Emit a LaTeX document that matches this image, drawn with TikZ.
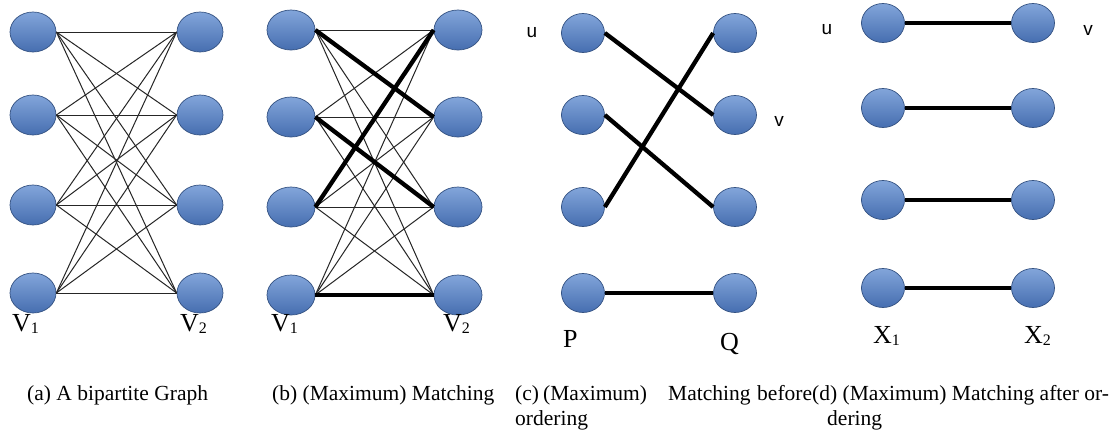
\documentclass[tikz,border=0pt]{standalone}
\usepackage{fontspec}
\setmainfont{Liberation Serif}
\newfontfamily\lsans{Liberation Sans}
\usetikzlibrary{shapes.geometric}
\definecolor{nodetop}{RGB}{130,165,218}
\definecolor{nodebot}{RGB}{70,110,176}
\definecolor{noderim}{RGB}{52,82,130}
\tikzset{
  vert/.style={ellipse, minimum width=46pt, minimum height=40pt, inner sep=0pt,
    top color=nodetop, bottom color=nodebot, draw=noderim, line width=0.7pt},
  vsmall/.style={vert, minimum width=43pt, minimum height=39pt},
  edgethin/.style={line width=1pt, black!85},
  edgethick/.style={line width=4.3pt, black},
  capt/.style={font=\fontsize{21.5}{25}\selectfont, anchor=base west, inner sep=0pt},
  lab/.style={font=\fontsize{26}{30}\selectfont, anchor=base west, inner sep=0pt},
  ulab/.style={font=\lsans\fontsize{19}{22}\selectfont, inner sep=0pt}
}
\newcommand{\subn}[1]{\raisebox{-2pt}{\fontsize{16}{16}\selectfont #1}}
\begin{document}
\begin{tikzpicture}[x=1pt,y=-1pt]
\useasboundingbox (0,0) rectangle (1111,432);
\fill[white] (0,0) rectangle (1111,432);
% (a)
\foreach \i/\y in {1/32,2/115,3/205,4/293}{
  \node[vert] (aL\i) at (33,\y) {};
  \node[vert] (aR\i) at (200,\y) {};
}
\foreach \i in {1,...,4}{\foreach \j in {1,...,4}{
  \draw[edgethin] (aL\i.east) -- (aR\j.west);
}}
\node[lab] (aV1) at (12,331) {V\subn{1}};
\node[lab] (aV2) at (180,331) {V\subn{2}};
% (b)
\foreach \i/\y in {1/30,2/117,3/207,4/295}{
  \node[vert, minimum width=48pt] (bL\i) at (291,\y) {};
  \node[vert, minimum width=48pt] (bR\i) at (458,\y) {};
}
\foreach \i/\j in {1/1,1/3,1/4,2/1,2/2,2/4,3/2,3/3,3/4,4/1,4/2,4/3}{
  \draw[edgethin] (bL\i.east) -- (bR\j.west);
}
\foreach \i/\j in {1/2,2/3,3/1,4/4}{
  \draw[edgethick] (bL\i.east) -- (bR\j.west);
}
\node[lab] (bV1) at (271,331) {V\subn{1}};
\node[lab] (bV2) at (443,331) {V\subn{2}};
% (c)
\foreach \i/\y in {1/33,2/115,3/207,4/293}{
  \node[vsmall] (cL\i) at (583,\y) {};
  \node[vsmall] (cR\i) at (735,\y) {};
}
\foreach \i/\j in {1/2,2/3,3/1,4/4}{
  \draw[edgethick] (cL\i.east) -- (cR\j.west);
}
\node[ulab] (cu) at (532,33) {u};
\node[ulab] (cv) at (779,121) {v};
\node[lab] (cP) at (563,347) {P};
\node[lab] (cQ) at (720,350) {Q};
% (d)
\foreach \i/\y in {1/23,2/108,3/200,4/288}{
  \node[vsmall] (dL\i) at (883,\y) {};
  \node[vsmall] (dR\i) at (1033,\y) {};
}
\foreach \i in {1,...,4}{
  \draw[edgethick] (dL\i.east) -- (dR\i.west);
}
\node[ulab] (du) at (827,30) {u};
\node[ulab] (dv) at (1088,30) {v};
\node[lab] (dX1) at (873,343) {X\subn{1}};
\node[lab] (dX2) at (1024,343) {X\subn{2}};
% captions
\node[capt] (capa) at (27,400) {(a) A bipartite Graph};
\node[capt] (capb) at (272,400) {(b) (Maximum) Matching};
\node[capt] (capc1) at (515,400) {(c)};
\node[capt] (capc2) at (543,400) {(Maximum)};
\node[capt] (capc3) at (668,400) {Matching};
\node[capt] (capc4) at (757,400) {before};
\node[capt] (capc5) at (515,425) {ordering};
\node[capt] (capd1) at (812,400) {(d) (Maximum) Matching after or-};
\node[capt] (capd2) at (827,425) {dering};
\end{tikzpicture}
\end{document}
